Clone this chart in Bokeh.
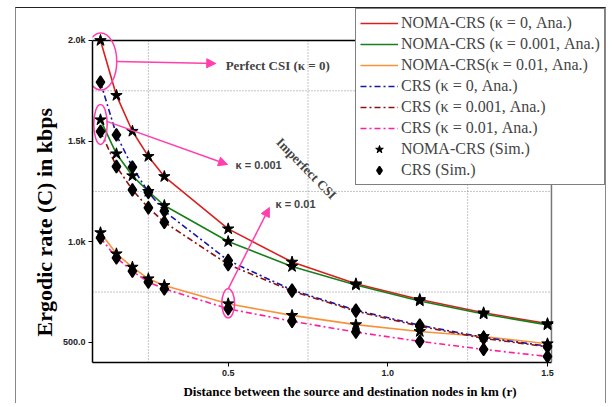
from bokeh.plotting import figure
from bokeh.models import FixedTicker, Legend, LegendItem, Arrow, NormalHead, Label, Title
from bokeh.embed import file_html
from bokeh.resources import INLINE

# ---------------- data ----------------
distance_km = [0.1, 0.15, 0.2, 0.25, 0.3, 0.5, 0.7, 0.9, 1.1, 1.3, 1.5]
noma_k0 = [2000, 1727, 1549, 1424, 1324, 1064, 899, 791, 713, 647, 593]
noma_k0001 = [1606, 1437, 1328, 1250, 1180, 1001, 877, 785, 706, 641, 587]
noma_k001 = [1045, 940, 874, 816, 783, 692, 634, 588, 554, 529, 493]
crs_k0 = [1793, 1531, 1371, 1246, 1152, 907, 760, 660, 585, 525, 481]
crs_k0001 = [1548, 1374, 1258, 1169, 1097, 887, 755, 655, 580, 520, 478]
crs_k001 = [1020, 920, 854, 800, 766, 667, 605, 551, 505, 465, 430]

labels = ["NOMA-CRS (κ = 0, Ana.)", "NOMA-CRS (κ = 0.001, Ana.)", "NOMA-CRS(κ = 0.01, Ana.)",
          "CRS (κ = 0, Ana.)", "CRS (κ = 0.001, Ana.)", "CRS (κ = 0.01, Ana.)",
          "NOMA-CRS (Sim.)", "CRS (Sim.)"]

x_ticks = [0.5, 1.0, 1.5]
x_tick_labels = ["0.5", "1.0", "1.5"]
y_ticks = [500, 1000, 1500, 2000]
y_tick_labels = ["500.0", "1.0k", "1.5k", "2.0k"]
x_grid = [0.25, 0.75, 1.25]
y_grid = [750, 1250, 1750]

# axes box (data) and the wider canvas view (frame also hosts the legend)
box_x0, box_x1 = 0.075, 1.5125
box_y0, box_y1 = 400, 2000
view_x1 = 1.688
view_y1 = 2159.0

PINK = "#ff3fae"
SERIF = "Liberation Serif"
SANS = "Liberation Sans"

p = figure(width=591, height=396, x_range=(box_x0, view_x1), y_range=(box_y0, view_y1),
           output_backend="svg", toolbar_location=None,
           min_border_left=76, min_border_top=0, min_border_right=0, min_border_bottom=42,
           margin=(7, 0, 0, 15))
p.styles = {"border-top": "1px solid #222", "border-left": "1px solid #888",
            "border-right": "1px solid #888"}
p.outline_line_color = None
p.xgrid.visible = False
p.ygrid.visible = False

# axes
for ax in (p.xaxis[0], p.yaxis[0]):
    ax.axis_line_color = "black"
    ax.axis_line_width = 1.5
    ax.major_tick_line_color = "black"
    ax.major_tick_out = 4
    ax.major_tick_in = 0
    ax.minor_tick_line_color = None
    ax.major_label_text_font = SANS
    ax.major_label_text_font_style = "bold"
    ax.major_label_text_font_size = "9px"
    ax.major_label_text_color = "#222"
    ax.axis_label_text_font = SERIF
    ax.axis_label_text_font_style = "bold"
    ax.axis_label_text_color = "black"

p.xaxis.bounds = (box_x0, box_x1)
p.yaxis.bounds = (box_y0, box_y1)
p.xaxis.ticker = FixedTicker(ticks=x_ticks)
p.xaxis.major_label_overrides = dict(zip(x_ticks, x_tick_labels))
p.yaxis.ticker = FixedTicker(ticks=y_ticks)
p.yaxis.major_label_overrides = dict(zip(y_ticks, y_tick_labels))
p.xaxis.axis_label = "Distance between the source and destination nodes in km (r)"
p.xaxis.axis_label_text_font_size = "13px"
p.xaxis.major_label_standoff = 3
p.xaxis.axis_label_standoff = 5
p.yaxis.major_label_standoff = 3

# y-axis title, centred on the axes box rather than on the whole frame
p.add_layout(Title(text="Ergodic rate (C) in kbps", align="left", offset=26,
                   text_font=SERIF, text_font_style="bold", text_font_size="22px",
                   text_color="black", standoff=6), "left")

# dotted grid inside the axes box
p.segment(x0=x_grid, y0=[box_y0] * len(x_grid), x1=x_grid, y1=[box_y1] * len(x_grid),
          line_color="#888888", line_dash="1 2", line_width=1)
p.segment(x0=[box_x0] * len(y_grid), y0=y_grid, x1=[box_x1] * len(y_grid), y1=y_grid,
          line_color="#888888", line_dash="1 2", line_width=1)

# top and right edges of the axes box
p.segment(x0=[box_x0], y0=[box_y1], x1=[box_x1], y1=[box_y1], line_color="black", line_width=1.5)
p.segment(x0=[box_x1], y0=[box_y0], x1=[box_x1], y1=[box_y1], line_color="#777777", line_width=1.5)

series = [
    (noma_k0, "#d9201e", "solid"),
    (noma_k0001, "#17801a", "solid"),
    (noma_k001, "#f7923a", "solid"),
    (crs_k0, "#1616a8", "6 3 2 3"),
    (crs_k0001, "#8e1212", "6 3 2 3"),
    (crs_k001, "#ff1f9e", "6 3 2 3"),
]
line_renderers = []
for ys, col, dash in series:
    r = p.line(distance_km, ys, line_color=col, line_width=1.6, line_dash=dash)
    line_renderers.append(r)

star_renderers = []
for ys in (noma_k0, noma_k0001, noma_k001):
    star_renderers.append(p.scatter(distance_km, ys, marker="star", size=12,
                                    fill_color="black", line_color="black"))
dia_renderers = []
for ys in (crs_k0, crs_k0001, crs_k001):
    dia_renderers.append(p.scatter(distance_km, ys, marker="diamond", size=12.5,
                                   fill_color="black", line_color="black", line_width=1.5))

# annotations (ellipses, arrows, texts)
p.ellipse(x=[0.101, 0.1, 0.5], y=[1896, 1583, 694], width=[0.1, 0.042, 0.04],
          height=[283, 199, 144], fill_color=None, line_color=PINK, line_width=1.5)

arrows = [((0.151, 1896), (0.461, 1886)), ((0.12, 1598), (0.498, 1384)), ((0.5, 766), (0.629, 1170))]
for (xs, ys), (xe, ye) in arrows:
    p.add_layout(Arrow(x_start=xs, y_start=ys, x_end=xe, y_end=ye, line_color=PINK, line_width=1.5,
                       end=NormalHead(size=9, fill_color=PINK, line_color=PINK)))

p.add_layout(Label(x=0.492, y=1876, text="Perfect CSI (κ = 0)", text_font=SERIF,
                   text_font_style="bold", text_font_size="13px", text_baseline="middle"))
p.add_layout(Label(x=0.523, y=1379, text="κ = 0.001", text_font=SANS,
                   text_font_style="bold", text_font_size="11px", text_baseline="middle"))
p.add_layout(Label(x=0.648, y=1190, text="κ = 0.01", text_font=SANS,
                   text_font_style="bold", text_font_size="11px", text_baseline="middle"))
p.add_layout(Label(x=0.745, y=1364, text="Imperfect CSI", text_font=SERIF,
                   text_font_style="bold", text_font_size="13px", text_baseline="middle",
                   text_align="center", angle=-0.80))

items = [LegendItem(label=labels[i], renderers=[line_renderers[i]]) for i in range(6)]
items.append(LegendItem(label=labels[6], renderers=[star_renderers[0]]))
items.append(LegendItem(label=labels[7], renderers=[dia_renderers[0]]))
legend = Legend(items=items, location=(263, 177), padding=4, spacing=1, glyph_width=38,
                glyph_height=20, label_height=20, label_standoff=3,
                label_text_font=SERIF, label_text_font_size="16px",
                border_line_color="black", border_line_width=1.5,
                background_fill_color="white", background_fill_alpha=1.0, margin=0)
p.add_layout(legend)

open("out.html", "w").write(file_html(p, INLINE))
